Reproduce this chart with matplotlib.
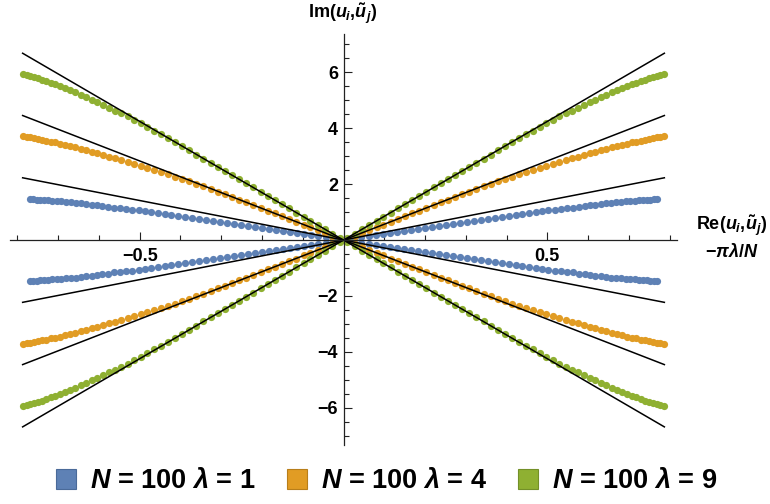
import matplotlib
matplotlib.use("Agg")
import matplotlib.pyplot as plt
from matplotlib.lines import Line2D
import numpy as np

plt.rcParams['font.family'] = ['Liberation Sans', 'DejaVu Sans']
plt.rcParams['font.weight'] = 'bold'
plt.rcParams['mathtext.fontset'] = 'custom'
plt.rcParams['mathtext.rm'] = 'Liberation Sans:bold'
plt.rcParams['mathtext.it'] = 'Liberation Sans:italic:bold'
plt.rcParams['mathtext.bf'] = 'Liberation Sans:bold'

# ---- data (upper-right branch of each series; the chart is symmetric) ----
x_blue = [0.008, 0.026, 0.044, 0.062, 0.079, 0.096, 0.114, 0.131, 0.148, 0.165,
          0.182, 0.199, 0.217, 0.234, 0.251, 0.268, 0.285, 0.302, 0.319, 0.337,
          0.354, 0.371, 0.388, 0.405, 0.422, 0.438, 0.454, 0.471, 0.487, 0.502,
          0.518, 0.534, 0.548, 0.563, 0.578, 0.592, 0.605, 0.618, 0.632, 0.645,
          0.657, 0.669, 0.681, 0.692, 0.703, 0.714, 0.725, 0.734, 0.744, 0.753,
          0.761, 0.770]
y_blue = [0.02, 0.06, 0.11, 0.15, 0.19, 0.23, 0.26, 0.29, 0.32, 0.36,
          0.39, 0.43, 0.47, 0.50, 0.54, 0.58, 0.62, 0.65, 0.69, 0.72,
          0.76, 0.79, 0.83, 0.86, 0.89, 0.92, 0.95, 0.99, 1.03, 1.06,
          1.09, 1.11, 1.13, 1.16, 1.20, 1.22, 1.25, 1.27, 1.30, 1.32,
          1.34, 1.35, 1.37, 1.38, 1.40, 1.41, 1.42, 1.43, 1.44, 1.45,
          1.46, 1.47]
x_og = [0.008, 0.027, 0.045, 0.063, 0.081, 0.098, 0.116, 0.134, 0.151, 0.168,
        0.186, 0.203, 0.222, 0.239, 0.256, 0.274, 0.291, 0.308, 0.326, 0.344,
        0.361, 0.379, 0.396, 0.414, 0.431, 0.447, 0.464, 0.481, 0.497, 0.513,
        0.529, 0.545, 0.560, 0.575, 0.590, 0.604, 0.618, 0.631, 0.645, 0.659,
        0.671, 0.683, 0.695, 0.707, 0.718, 0.729, 0.740, 0.749, 0.760, 0.769,
        0.777, 0.786]
y_orange = [0.05, 0.15, 0.25, 0.36, 0.46, 0.55, 0.66, 0.76, 0.85, 0.95,
            1.05, 1.15, 1.25, 1.35, 1.44, 1.54, 1.64, 1.73, 1.83, 1.92,
            2.01, 2.10, 2.19, 2.27, 2.35, 2.43, 2.50, 2.58, 2.65, 2.72,
            2.79, 2.86, 2.92, 2.98, 3.04, 3.10, 3.16, 3.21, 3.27, 3.32,
            3.36, 3.41, 3.45, 3.49, 3.52, 3.56, 3.59, 3.62, 3.65, 3.67,
            3.69, 3.71]
y_green = [0.07, 0.23, 0.38, 0.53, 0.69, 0.83, 0.98, 1.14, 1.28, 1.43,
           1.58, 1.72, 1.88, 2.03, 2.17, 2.32, 2.47, 2.61, 2.76, 2.91,
           3.06, 3.21, 3.35, 3.50, 3.64, 3.78, 3.91, 4.05, 4.18, 4.30,
           4.42, 4.53, 4.63, 4.73, 4.83, 4.92, 5.02, 5.11, 5.20, 5.29,
           5.37, 5.44, 5.51, 5.57, 5.63, 5.69, 5.74, 5.78, 5.83, 5.87,
           5.91, 5.95]

series_x = [x_blue, x_og, x_og]
series_y = [y_blue, y_orange, y_green]
colors = ['#5E81B5', '#E19C24', '#8FB032']
edge_colors = ['#4A6A99', '#B87E1A', '#739028']
lambdas = [1, 4, 9]
N = 100
line_slopes = [2.83, 5.66, 8.49]
line_xmax = 0.787

# ---- figure ----
fig = plt.figure(figsize=(7.7, 5.04), dpi=100)
ax = fig.add_axes([10/770, 1-445/504, 667/770, 411/504])

for xs, ys, c in zip(series_x, series_y, colors):
    xs = np.asarray(xs); ys = np.asarray(ys)
    for sx in (1, -1):
        for sy in (1, -1):
            ax.plot(sx*xs, sy*ys, 'o', color=c, markersize=5.2,
                    markeredgewidth=0, zorder=2)

lx = np.array([-line_xmax, line_xmax])
for s in line_slopes:
    ax.plot(lx, s*lx, color='black', lw=1.1, zorder=3)
    ax.plot(lx, -s*lx, color='black', lw=1.1, zorder=3)

ax.set_xlim(-0.818, 0.818)
ax.set_ylim(-7.33, 7.37)

for sp in ('top', 'right'):
    ax.spines[sp].set_visible(False)
ax.spines['left'].set_position(('data', 0))
ax.spines['bottom'].set_position(('data', 0))
for sp in ('left', 'bottom'):
    ax.spines[sp].set_color('#222222')
    ax.spines[sp].set_linewidth(0.9)
    ax.spines[sp].set_zorder(4)

ax.set_xticks([-0.5, 0.5])
ax.set_xticklabels(['\u22120.5', '0.5'])
ax.set_xticks([v/10 for v in range(-8, 9) if v not in (0, -5, 5)], minor=True)
ax.set_yticks([-6, -4, -2, 2, 4, 6])
ax.set_yticklabels(['\u22126', '\u22124', '\u22122', '2', '4', '6'])
ax.set_yticks([v/2 for v in range(-14, 15) if v % 4 != 0], minor=True)

ax.tick_params(axis='both', which='major', direction='in', length=5.5,
               width=0.8, labelsize=13, color='#222222')
ax.tick_params(axis='both', which='minor', direction='in', length=3.3,
               width=0.8, color='#222222')
ax.tick_params(axis='x', which='major', pad=6)
ax.tick_params(axis='y', which='major', pad=4)
for lab in ax.get_xticklabels() + ax.get_yticklabels():
    lab.set_fontweight('bold')

# axis labels
fig.text(343/770, 1-14/504, r'$\mathrm{Im}(u_i{,}\tilde{u}_j)$', ha='center',
         va='center', fontsize=13)
fig.text(732/770, 1-226/504, r'$\mathrm{Re}(u_i{,}\tilde{u}_j)$', ha='center',
         va='center', fontsize=13)
fig.text(732/770, 1-252/504, r'$-\pi\lambda/N$', ha='center',
         va='center', fontsize=13)

# legend
handles = [Line2D([], [], marker='s', linestyle='none', markersize=14.5,
                  markerfacecolor=c, markeredgecolor=ec, markeredgewidth=0.8)
           for c, ec in zip(colors, edge_colors)]
labels = [r'$N$ = %d $\lambda$ = %d' % (N, l) for l in lambdas]
leg = fig.legend(handles, labels, loc='center', bbox_to_anchor=(0.5, 1-481/504),
                 ncol=3, frameon=False, fontsize=19.5, handletextpad=0.4,
                 columnspacing=1.0, handlelength=1.0)
for t in leg.get_texts():
    t.set_fontweight('bold')

fig.savefig('out.png', dpi=100)
